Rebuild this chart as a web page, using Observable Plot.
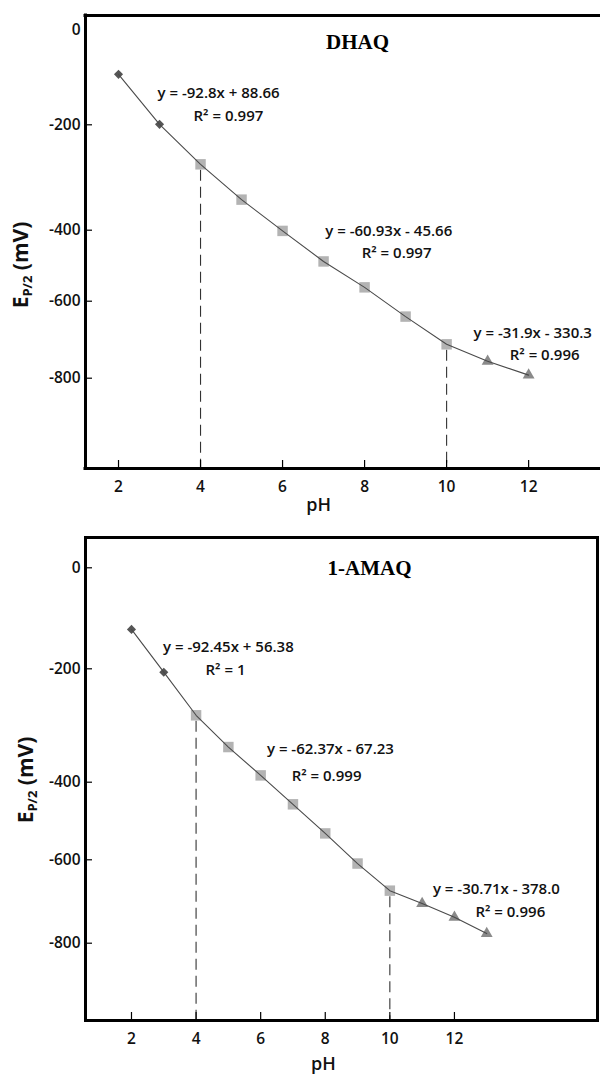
<!DOCTYPE html>
<html>
<head>
<meta charset="utf-8">
<script src="https://cdn.jsdelivr.net/npm/d3@7"></script>
<script src="https://cdn.jsdelivr.net/npm/@observablehq/plot@0.6"></script>
<style>
  html, body { margin: 0; padding: 0; background: #fff; width: 600px; height: 1080px; overflow: hidden; }
  #chart svg { display: block; }
</style>
</head>
<body>
<div id="chart"></div>
<script>
// Half-peak potential E_P/2 (mV) against pH for the two anthraquinones
const dhaqPH = [2, 3, 4, 5, 6, 7, 8, 9, 10, 11, 12];
const dhaqE  = [-93, -199, -275, -342, -402, -488, -561, -640, -712, -756, -792];

const amaqPH = [2, 3, 4, 5, 6, 7, 8, 9, 10, 11, 12, 13];
const amaqE  = [-122, -206, -282, -338, -388, -457, -532, -609, -674, -705, -738, -777];

// pH values where the slope changes (drawn as dashed drop lines)
const breakPH = [4, 10];

const yTicks = [0, -200, -400, -600, -800];
const xTicks = [2, 4, 6, 8, 10, 12];

// fitted lines of the three linear regions
const dhaqFit = ["y = -92.8x + 88.66", "y = -60.93x - 45.66", "y = -31.9x - 330.3"];
const dhaqR2  = ["R² = 0.997", "R² = 0.997", "R² = 0.996"];
const amaqFit = ["y = -92.45x + 56.38", "y = -62.37x - 67.23", "y = -30.71x - 378.0"];
const amaqR2  = ["R² = 1", "R² = 0.999", "R² = 0.996"];

const SANS = "'Open Sans', 'DejaVu Sans', sans-serif";
const SERIF = "'Liberation Serif', 'Times New Roman', serif";

function markerOf(p) {
  return p < breakPH[0] ? "diamond" : p <= breakPH[1] ? "square" : "triangle";
}

function makePanel(cfg) {
  const rows = cfg.pH.map((p, i) => ({pH: p, E: cfg.E[i], marker: markerOf(p)}));
  const yTop = cfg.yDomain[0];
  const yBottom = cfg.yDomain[cfg.yDomain.length - 1];
  const xLeft = cfg.xDomain[0];

  const border = cfg.openRight
    ? [
        Plot.ruleY([yTop, yBottom], {stroke: "#000", strokeWidth: 3, strokeLinecap: "square"}),
        Plot.ruleX([xLeft], {stroke: "#000", strokeWidth: 3, strokeLinecap: "square"})
      ]
    : [Plot.frame({stroke: "#000", strokeWidth: 3})];

  const textStyle = {fontFamily: SANS, fontWeight: 600, fontSize: 15, fill: "#111"};

  const svg = Plot.plot({
    width: 600,
    height: cfg.height,
    marginTop: cfg.marginTop,
    marginBottom: cfg.marginBottom,
    marginLeft: 85,
    marginRight: cfg.marginRight,
    style: {fontFamily: SANS, background: "#fff", color: "#000", overflow: "hidden"},
    x: {type: "linear", domain: cfg.xDomain},
    // the printed E axis is not evenly spaced, so the scale runs piecewise through its ticks
    y: {type: "linear", domain: cfg.yDomain, range: cfg.yRange},
    marks: [
      // drop lines at the slope changes
      Plot.ruleX(rows.filter(d => breakPH.includes(d.pH)), {
        x: "pH", y1: "E", y2: () => yBottom,
        stroke: "#333", strokeWidth: 1.1, strokeDasharray: "11,6", strokeDashoffset: 11
      }),
      Plot.dot(rows.filter(d => d.marker === "square"), {
        x: "pH", y: "E", symbol: "square", r: 5.9, fill: "#b3b3b3", stroke: "none"
      }),
      Plot.dot(rows.filter(d => d.marker === "diamond"), {
        x: "pH", y: "E", symbol: "diamond2", r: 4.1, fill: "#555", stroke: "none"
      }),
      Plot.dot(rows.filter(d => d.marker === "triangle"), {
        x: "pH", y: "E", symbol: "triangle", r: 4.4, fill: "#8a8a8a", stroke: "none"
      }),
      Plot.line(rows, {x: "pH", y: "E", stroke: "#4a4a4a", strokeWidth: 1.1}),
      ...border,
      // tick marks point into the frame
      Plot.axisY(cfg.yTickMarks, {anchor: "left", tickSize: 7, dx: 7, fill: "none", label: null, strokeWidth: 1.2}),
      Plot.axisX(xTicks, {anchor: "bottom", tickSize: 8, dy: -8, fill: "none", label: null, strokeWidth: 1.2}),
      Plot.axisY(yTicks, {anchor: "left", tickSize: 0, tickPadding: 5, tickFormat: d => String(d), label: null, ...textStyle, fontSize: 15.5}),
      Plot.axisX(xTicks, {anchor: "bottom", tickSize: 0, tickPadding: 12, tickFormat: d => String(d), label: null, ...textStyle, fontSize: 15.5}),
      Plot.text(["pH"], {x: [cfg.pHLabelAt], frameAnchor: "bottom", dy: cfg.pHLabelDy,
        fontFamily: SANS, fontWeight: 600, fontSize: 18, fill: "#111"}),
      Plot.text([cfg.title], {x: [cfg.titleAt[0]], y: [cfg.titleAt[1]],
        fontFamily: SERIF, fontWeight: "bold", fontSize: 21, fill: "#000"}),
      Plot.text(cfg.fit, {x: cfg.fitAt.map(d => d[0]), y: cfg.fitAt.map(d => d[1]), text: d => d, ...textStyle}),
      Plot.text(cfg.r2, {x: cfg.r2At.map(d => d[0]), y: cfg.r2At.map(d => d[1]), text: d => d, ...textStyle})
    ]
  });

  // y-axis title with a subscript
  const t = d3.select(svg).append("text")
    .attr("transform", `translate(${cfg.yLabelAt[0]},${cfg.yLabelAt[1]}) rotate(-90)`)
    .attr("text-anchor", "middle")
    .attr("font-family", SANS)
    .attr("font-weight", 700)
    .attr("font-size", 21)
    .attr("fill", "#111");
  t.append("tspan").text("E");
  t.append("tspan").attr("font-size", 13).attr("dy", 4).text("P/2");
  t.append("tspan").attr("dy", -4).text(" (mV)");

  return svg;
}

const chart = document.getElementById("chart");

chart.appendChild(makePanel({
  title: "DHAQ",
  pH: dhaqPH, E: dhaqE, fit: dhaqFit, r2: dhaqR2,
  height: 520, marginTop: 15, marginBottom: 52, marginRight: -4, openRight: true,
  xDomain: [1.195, 13.85],
  yDomain: [32, 0, -200, -400, -600, -800, -1034],
  yRange: [15, 30, 124.3, 229.7, 300.7, 377.7, 468],
  yTickMarks: [-200, -400, -600, -800],
  titleAt: [7.83, -25],
  fitAt: [[4.44, -134], [8.59, -404], [12.1, -684]],
  r2At: [[4.68, -182], [8.78, -466], [12.39, -741]],
  pHLabelAt: 6.88, pHLabelDy: 42,
  yLabelAt: [28, 265]
}));

chart.appendChild(makePanel({
  title: "1-AMAQ",
  pH: amaqPH, E: amaqE, fit: amaqFit, r2: amaqR2,
  height: 560, marginTop: 17, marginBottom: 60, marginRight: 3, openRight: false,
  xDomain: [0.576, 16.43],
  yDomain: [60, 0, -200, -400, -600, -800, -985],
  yRange: [17, 47.3, 148.3, 261.7, 339.3, 422.7, 500],
  yTickMarks: yTicks,
  titleAt: [9.37, 0],
  fitAt: [[5.0, -157], [8.16, -342], [13.3, -671]],
  r2At: [[4.91, -203], [8.04, -390], [13.73, -725]],
  pHLabelAt: 7.94, pHLabelDy: 49,
  yLabelAt: [33, 260]
}));
</script>
</body>
</html>
